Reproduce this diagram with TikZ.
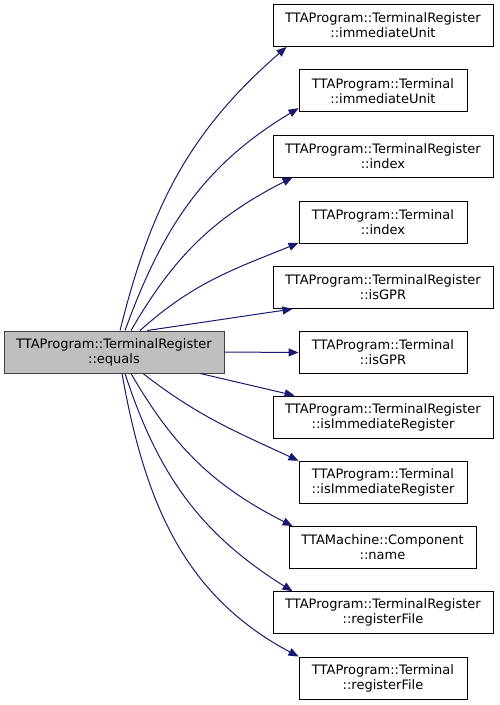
\documentclass[tikz,border=0pt]{standalone}
\usepackage{fontspec}
\setmainfont{DejaVu Sans}
\usetikzlibrary{arrows.meta}
\definecolor{edgec}{HTML}{191970}
\definecolor{nodefill}{HTML}{BFBFBF}
\tikzset{
  box/.style={draw=black, line width=0.9pt, align=center, inner sep=0pt,
    minimum height=42pt, font=\fontsize{13pt}{15pt}\selectfont},
  wide/.style={box, minimum width=220pt},
  narrow/.style={box, minimum width=168pt},
  mid/.style={box, minimum width=187pt},
  edge/.style={draw=edgec, line width=1pt, -{Triangle[length=10pt,width=8pt]}},
}
\begin{document}
\begin{tikzpicture}[x=1pt,y=-1pt]
\useasboundingbox (0,0) rectangle (499,705);
\node[wide, fill=nodefill, draw=black!75] (L) at (114,352) {TTAProgram::TerminalRegister\\::equals};
\node[wide]   (T1)  at (383,25.5)  {TTAProgram::TerminalRegister\\::immediateUnit};
\node[narrow] (T2)  at (383,90.75) {TTAProgram::Terminal\\::immediateUnit};
\node[wide]   (T3)  at (383,156)   {TTAProgram::TerminalRegister\\::index};
\node[narrow] (T4)  at (383,222.5) {TTAProgram::Terminal\\::index};
\node[wide]   (T5)  at (383,287.5) {TTAProgram::TerminalRegister\\::isGPR};
\node[narrow] (T6)  at (383,352.5) {TTAProgram::Terminal\\::isGPR};
\node[wide]   (T7)  at (383,417)   {TTAProgram::TerminalRegister\\::isImmediateRegister};
\node[narrow] (T8)  at (383,482.25){TTAProgram::Terminal\\::isImmediateRegister};
\node[mid]    (T9)  at (382.5,547.5) {TTAMachine::Component\\::name};
\node[wide]   (T10) at (383,612.75){TTAProgram::TerminalRegister\\::registerFile};
\node[narrow] (T11) at (383,678)   {TTAProgram::Terminal\\::registerFile};

\draw[edge] ([xshift=6pt]L.north) to[out=76,in=221] ([xshift=14pt]T1.south west);
\draw[edge] ([xshift=11pt]L.north) to[out=70,in=211] ([yshift=4pt]T2.south west);
\draw[edge] ([xshift=17pt]L.north) to[out=60,in=207] ([xshift=20pt]T3.south west);
\draw[edge] ([xshift=26pt]L.north) to[out=42,in=202] ([yshift=1pt]T4.south west);
\draw[edge] ([xshift=33pt]L.north) -- ([xshift=20pt]T5.south west);
\draw[edge] (L.east) -- (T6.west);
\draw[edge] ([xshift=86pt]L.south) -- ([xshift=22pt]T7.north west);
\draw[edge] ([xshift=29pt]L.south) to[out=-38,in=155] (T8.north west);
\draw[edge] ([xshift=17pt]L.south) to[out=-60,in=153] ([xshift=4pt]T9.north west);
\draw[edge] ([xshift=11pt]L.south) to[out=-72,in=148] ([xshift=20pt]T10.north west);
\draw[edge] ([xshift=8pt]L.south) to[out=-80,in=152] (T11.north west);
\end{tikzpicture}
\end{document}
